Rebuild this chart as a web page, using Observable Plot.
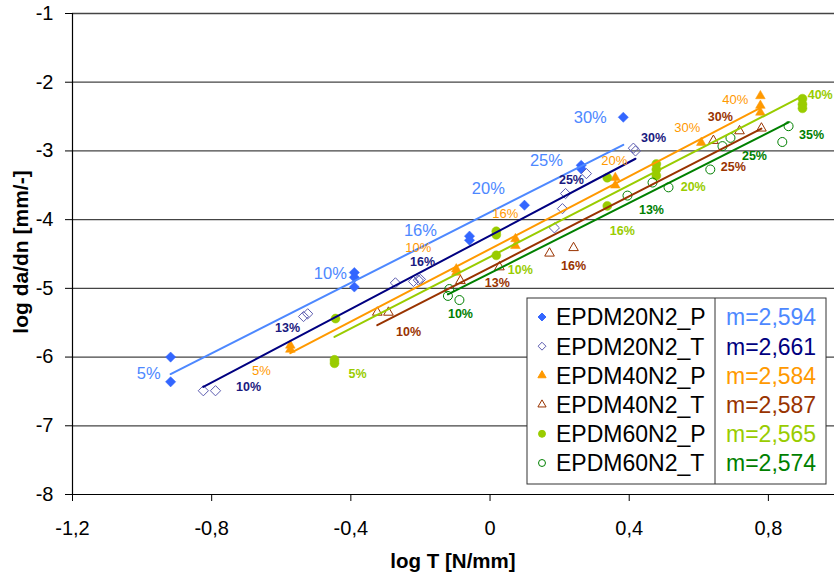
<!DOCTYPE html>
<html><head><meta charset="utf-8">
<script src="https://cdn.jsdelivr.net/npm/d3@7"></script>
<script src="https://cdn.jsdelivr.net/npm/@observablehq/plot@0.6"></script>
<style>
body{margin:0;background:#fff;}
#chart{width:834px;height:575px;}
</style></head><body><div id="chart"></div>
<script>
// ---- data ----
const seriesNames = ["EPDM20N2_P","EPDM20N2_T","EPDM40N2_P","EPDM40N2_T","EPDM60N2_P","EPDM60N2_T"];
const slopeLabels = ["m=2,594","m=2,661","m=2,584","m=2,587","m=2,565","m=2,574"];

const s20P_x = [-0.918,-0.918,-0.390,-0.390,-0.390,-0.059,-0.059,0.099,0.262,0.262,0.383];
const s20P_y = [-6.00,-6.36,-4.77,-4.84,-4.98,-4.24,-4.30,-3.79,-3.21,-3.26,-2.51];
const s20T_x = [-0.824,-0.789,-0.536,-0.524,-0.272,-0.220,-0.206,-0.200,0.185,0.208,0.217,0.277,0.412,0.418];
const s20T_y = [-6.49,-6.49,-5.41,-5.37,-4.92,-4.90,-4.88,-4.87,-4.12,-3.84,-3.62,-3.33,-2.96,-3.00];
const s40P_x = [-0.574,-0.574,-0.097,-0.097,0.073,0.073,0.360,0.360,0.607,0.777,0.777,0.777];
const s40P_y = [-5.83,-5.89,-4.72,-4.77,-4.28,-4.38,-3.39,-3.50,-2.88,-2.20,-2.34,-2.44];
const s40T_x = [-0.324,-0.292,-0.085,0.027,0.171,0.240,0.642,0.717,0.780];
const s40T_y = [-5.35,-5.35,-4.89,-4.69,-4.49,-4.41,-2.85,-2.71,-2.67];
const s60P_x = [-0.447,-0.447,-0.444,0.018,0.018,0.018,0.337,0.337,0.478,0.478,0.478,0.898,0.898,0.898];
const s60P_y = [-6.04,-6.09,-5.44,-4.17,-4.22,-4.52,-3.39,-3.80,-3.19,-3.27,-3.36,-2.24,-2.32,-2.38];
const s60T_x = [-0.117,-0.121,-0.088,0.395,0.467,0.513,0.633,0.668,0.691,0.840,0.858];
const s60T_y = [-5.01,-5.11,-5.17,-3.65,-3.46,-3.53,-3.27,-2.93,-2.81,-2.87,-2.64];

// percentage annotations (data coordinates)
const lab20P_t = ["5%","10%","16%","20%","25%","30%"];
const lab20P_x = [-0.981,-0.459,-0.200,-0.005,0.162,0.288];
const lab20P_y = [-6.24,-4.78,-4.16,-3.55,-3.14,-2.51];
const lab20T_t = ["10%","13%","16%","25%","30%"];
const lab20T_x = [-0.694,-0.582,-0.194,0.234,0.470];
const lab20T_y = [-6.43,-5.57,-4.62,-3.43,-2.81];
const lab40P_t = ["5%","10%","16%","20%","30%","40%"];
const lab40P_x = [-0.657,-0.206,0.044,0.357,0.567,0.705];
const lab40P_y = [-6.20,-4.41,-3.92,-3.14,-2.67,-2.25];
const lab40T_t = ["10%","13%","16%","25%","30%"];
const lab40T_x = [-0.234,0.021,0.240,0.699,0.662];
const lab40T_y = [-5.63,-4.92,-4.68,-3.24,-2.51];
const lab60P_t = ["5%","10%","16%","20%","40%"];
const lab60P_x = [-0.381,0.087,0.380,0.584,0.949];
const lab60P_y = [-6.24,-4.74,-4.16,-3.53,-2.18];
const lab60T_t = ["10%","13%","25%","35%"];
const lab60T_x = [-0.085,0.464,0.760,0.924];
const lab60T_y = [-5.37,-3.86,-3.07,-2.77];

const xTicks = [-1.2,-0.8,-0.4,0,0.4,0.8];
const yTicks = [-8,-7,-6,-5,-4,-3,-2,-1];

// ---- styles ----
const styles = [
  {xs:s20P_x, ys:s20P_y, lt:lab20P_t, lx:lab20P_x, ly:lab20P_y, symbol:"diamond2", marker:"#3366ff", filled:true,  line:"#4d88ff", text:"#4d88ff", mtext:"#4d88ff", lfs:16.5, lfw:"normal"},
  {xs:s20T_x, ys:s20T_y, lt:lab20T_t, lx:lab20T_x, ly:lab20T_y, symbol:"diamond2", marker:"#5c5cb0", filled:false, line:"#000080", text:"#1a1a80", mtext:"#000080", lfs:12.5, lfw:"bold"},
  {xs:s40P_x, ys:s40P_y, lt:lab40P_t, lx:lab40P_x, ly:lab40P_y, symbol:"triangle2", marker:"#ff9900", filled:true,  line:"#ff9900", text:"#ff9900", mtext:"#ff9900", lfs:13, lfw:"normal"},
  {xs:s40T_x, ys:s40T_y, lt:lab40T_t, lx:lab40T_x, ly:lab40T_y, symbol:"triangle2", marker:"#993300", filled:false, line:"#993300", text:"#993300", mtext:"#993300", lfs:12.5, lfw:"bold"},
  {xs:s60P_x, ys:s60P_y, lt:lab60P_t, lx:lab60P_x, ly:lab60P_y, symbol:"circle", marker:"#99cc00", filled:true,  line:"#99cc00", text:"#99cc00", mtext:"#99cc00", lfs:12.5, lfw:"bold"},
  {xs:s60T_x, ys:s60T_y, lt:lab60T_t, lx:lab60T_x, ly:lab60T_y, symbol:"circle", marker:"#008000", filled:false, line:"#008000", text:"#008000", mtext:"#008000", lfs:12.5, lfw:"bold"}
];

const fmt = d => String(d).replace(".", ",");

const marks = [
  Plot.ruleY(yTicks.filter(d => d > -8), {stroke: "#444", strokeWidth: 1.3}),
  Plot.axisY({ticks: yTicks, tickSize: 7, tickPadding: 12, tickFormat: fmt, fontSize: 20, label: null}),
  Plot.axisX({ticks: xTicks, tickSize: 7, tickPadding: 19, tickFormat: fmt, fontSize: 20, label: null}),
  Plot.ruleY([-8], {stroke: "#000", strokeWidth: 1.2}),
  Plot.ruleX([-1.2], {stroke: "#000", strokeWidth: 1.2})
];

styles.forEach((s, i) => {
  const pts = s.xs.map((x, j) => ({x, y: s.ys[j], series: seriesNames[i]}));
  marks.push(Plot.dot(pts, {x: "x", y: "y", symbol: () => s.symbol, r: s.symbol === "circle" ? 4.5 : 4.6,
    fill: s.filled ? s.marker : "none", stroke: s.marker, strokeWidth: s.filled ? 0.5 : 1}));
});
styles.forEach((s) => {
  const pts = s.xs.map((x, j) => ({x, y: s.ys[j]}));
  marks.push(Plot.linearRegressionY(pts, {x: "x", y: "y", stroke: s.line, strokeWidth: 2, ci: 0}));
});
styles.forEach((s) => {
  const labs = s.lt.map((t, j) => ({t, x: s.lx[j], y: s.ly[j]}));
  marks.push(Plot.text(labs, {x: "x", y: "y", text: "t", fill: s.text, fontSize: s.lfs, fontWeight: s.lfw}));
});

const svg = Plot.plot({
  width: 834, height: 575,
  marginLeft: 72, marginRight: 0, marginTop: 13, marginBottom: 81,
  x: {domain: [-1.2, 0.99]},
  y: {domain: [-8, -1]},
  symbol: {type: "identity"},
  style: {fontFamily: "'Liberation Sans', Arial, sans-serif", fontSize: "20px", color: "#000", background: "#fff", overflow: "visible"},
  marks
});
document.getElementById("chart").appendChild(svg);

// ---- axis titles & legend ----
const root = d3.select(svg);
root.append("text").attr("transform", "translate(21,252) rotate(-90)")
  .attr("text-anchor", "middle").attr("dy", "0.35em")
  .style("font", "bold 21px 'Liberation Sans', Arial, sans-serif").text("log da/dn [mm/-]");
root.append("text").attr("x", 453).attr("y", 568).attr("text-anchor", "middle")
  .style("font", "bold 20.5px 'Liberation Sans', Arial, sans-serif").text("log T [N/mm]");

const lg = root.append("g").attr("text-anchor", "start");
lg.append("rect").attr("x", 527).attr("y", 298).attr("width", 299).attr("height", 186)
  .attr("fill", "#fff").attr("stroke", "#333").attr("stroke-width", 1);
lg.append("line").attr("x1", 715).attr("x2", 715).attr("y1", 298).attr("y2", 484).attr("stroke", "#333");
const symMap = {diamond2: d3.symbolDiamond2, triangle2: d3.symbolTriangle2, circle: d3.symbolCircle};
styles.forEach((s, i) => {
  const cy = 317 + i * 29.2;
  const size = s.symbol === "circle" ? 38 : s.symbol === "triangle2" ? 48 : 40;
  lg.append("path").attr("d", d3.symbol(symMap[s.symbol], size)())
    .attr("transform", `translate(542,${cy})`)
    .attr("fill", s.filled ? s.marker : "#fff").attr("stroke", s.marker).attr("stroke-width", 1);
  lg.append("text").attr("x", 556).attr("y", cy + 8.3).attr("text-anchor", "start")
    .style("font", "23px 'Liberation Sans', Arial, sans-serif").attr("fill", "#000").text(seriesNames[i]);
  lg.append("text").attr("x", 726).attr("y", cy + 8.3).attr("text-anchor", "start")
    .style("font", "23px 'Liberation Sans', Arial, sans-serif").attr("fill", s.mtext).text(slopeLabels[i]);
});
</script>
</body></html>
